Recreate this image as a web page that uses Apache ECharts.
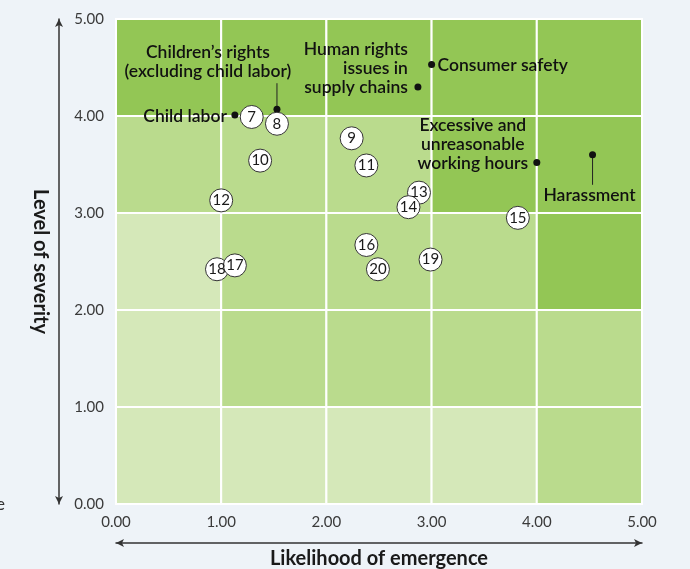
<!DOCTYPE html>
<html>
<head>
<meta charset="utf-8">
<title>Human rights risk map</title>
<script src="https://cdn.jsdelivr.net/npm/echarts@6/dist/echarts.min.js"></script>
<style>
  html, body { margin: 0; padding: 0; background: #eef3f8; }
  #chart { width: 690px; height: 569px; }
</style>
</head>
<body>
<div id="chart"></div>
<script>
// axis ticks
const tickValues = [0, 1, 2, 3, 4, 5];

// background zones, rows from bottom (severity 0-1) to top, 1 = low, 2 = mid, 3 = high
const zoneRows = [
  [1, 1, 1, 1, 2],
  [1, 2, 2, 2, 2],
  [1, 2, 2, 2, 3],
  [2, 2, 2, 3, 3],
  [3, 3, 3, 3, 3]
];

// numbered issues
const numIds = [7, 8, 9, 10, 11, 12, 13, 14, 15, 16, 18, 17, 19, 20];
const numLikelihood = [1.29, 1.53, 2.24, 1.37, 2.38, 1.00, 2.88, 2.78, 3.82, 2.38, 0.96, 1.13, 2.99, 2.49];
const numSeverity = [3.99, 3.92, 3.77, 3.54, 3.49, 3.13, 3.21, 3.06, 2.95, 2.67, 2.42, 2.46, 2.52, 2.42];

// named issues
const issueNames = [
  'Child labor',
  'Children\u2019s rights\n(excluding child labor)',
  'Human rights\nissues in\nsupply chains',
  'Consumer safety',
  'Excessive and\nunreasonable\nworking hours',
  'Harassment'
];
const issueLikelihood = [1.13, 1.53, 2.87, 3.00, 4.00, 4.53];
const issueSeverity = [4.01, 4.07, 4.30, 4.53, 3.52, 3.60];

// label placement (pixels relative to the dot)
const issueLabelStyle = [
  { dx: -8, dy: 1, align: 'right', va: 'middle' },
  { dx: -69, dy: -28, align: 'center', va: 'bottom', line: -26 },
  { dx: -10, dy: 10, align: 'right', va: 'bottom' },
  { dx: 6, dy: 1, align: 'left', va: 'middle' },
  { dx: -64, dy: 10, align: 'center', va: 'bottom' },
  { dx: -3, dy: 31, align: 'center', va: 'top', line: 30 }
];

const zoneColors = { 1: '#d5e8b9', 2: '#badb8d', 3: '#93c655' };
const FONT = 'Lato, "Noto Sans", sans-serif';

const zoneData = [];
zoneRows.forEach((row, yi) => {
  row.forEach((lvl, xi) => zoneData.push([xi, yi, lvl]));
});

const numData = numIds.map((id, i) => [numLikelihood[i], numSeverity[i], id]);
const issueData = issueNames.map((n, i) => [issueLikelihood[i], issueSeverity[i], i]);

const fmt = v => v.toFixed(2);

const chart = echarts.init(document.getElementById('chart'));

const arrowLine = {
  show: true, onZero: false,
  symbol: ['arrow', 'arrow'], symbolSize: [6, 8],
  lineStyle: { color: '#333', width: 1.5 }
};

const option = {
  backgroundColor: '#eef3f8',
  animation: false,
  textStyle: { fontFamily: FONT },
  grid: { left: 116, right: 48, top: 19, bottom: 65, outerBoundsMode: 'none', containLabel: false },
  xAxis: [
    {
      type: 'value', min: tickValues[0], max: tickValues[tickValues.length - 1], interval: 1,
      axisLine: { show: false }, axisTick: { show: false }, splitLine: { show: false },
      axisLabel: { formatter: fmt, margin: 11, color: '#3a3a3a', fontSize: 15, fontFamily: FONT }
    },
    {
      type: 'value', min: 0, max: 5, position: 'bottom', offset: 39,
      axisLine: arrowLine,
      axisTick: { show: false }, axisLabel: { show: false }, splitLine: { show: false },
      name: 'Likelihood of emergence', nameLocation: 'middle', nameGap: 6,
      nameTextStyle: { fontSize: 20, fontWeight: 'bold', color: '#1a1a1a', fontFamily: FONT, verticalAlign: 'top' }
    }
  ],
  yAxis: [
    {
      type: 'value', min: tickValues[0], max: tickValues[tickValues.length - 1], interval: 1,
      axisLine: { show: false }, axisTick: { show: false }, splitLine: { show: false },
      axisLabel: { formatter: fmt, margin: 12, color: '#3a3a3a', fontSize: 15, fontFamily: FONT }
    },
    {
      type: 'value', min: 0, max: 5, position: 'left', offset: 57,
      axisLine: arrowLine,
      axisTick: { show: false }, axisLabel: { show: false }, splitLine: { show: false },
      name: 'Level of severity', nameLocation: 'middle', nameGap: 9, nameRotate: -90,
      nameTextStyle: { fontSize: 20, fontWeight: 'bold', color: '#1a1a1a', fontFamily: FONT }
    }
  ],
  graphic: [
    { type: 'text', left: -4, top: 496, style: { text: 'e', fontSize: 17, fill: '#333', fontFamily: FONT } }
  ],
  series: [
    {
      type: 'custom',
      silent: true,
      z: 1,
      data: zoneData,
      renderItem: (params, api) => {
        const x = api.value(0), y = api.value(1);
        const p = api.coord([x, y + 1]);
        const s = api.size([1, 1]);
        return {
          type: 'rect',
          shape: { x: p[0], y: p[1], width: s[0], height: s[1] },
          style: { fill: zoneColors[api.value(2)], stroke: '#ffffff', lineWidth: 2 }
        };
      }
    },
    {
      type: 'custom',
      silent: true,
      z: 3,
      data: issueData,
      renderItem: (params, api) => {
        const p = api.coord([api.value(0), api.value(1)]);
        const idx = api.value(2);
        const st = issueLabelStyle[idx];
        const children = [];
        if (st.line) {
          children.push({
            type: 'line',
            shape: { x1: p[0], y1: p[1], x2: p[0], y2: p[1] + st.line },
            style: { stroke: '#222', lineWidth: 1 }
          });
        }
        children.push({
          type: 'circle',
          shape: { cx: p[0], cy: p[1], r: 3.5 },
          style: { fill: '#111' }
        });
        children.push({
          type: 'text',
          x: p[0] + st.dx,
          y: p[1] + st.dy,
          style: {
            text: issueNames[idx],
            fill: '#111',
            fontSize: 17.5,
            fontWeight: 600,
            fontFamily: FONT,
            lineHeight: 19,
            align: st.align,
            verticalAlign: st.va
          }
        });
        return { type: 'group', children: children };
      }
    },
    {
      type: 'scatter',
      z: 4,
      data: numData,
      symbol: 'circle',
      symbolSize: 23,
      itemStyle: { color: '#ffffff', borderColor: '#333', borderWidth: 1, opacity: 1 },
      label: {
        show: true, position: 'inside',
        formatter: p => String(p.value[2]),
        color: '#1a1a1a', fontSize: 15, fontFamily: FONT
      },
      emphasis: { disabled: true }
    }
  ]
};

chart.setOption(option);

window.addEventListener('resize', function () {
  chart.resize();
});
</script>
</body>
</html>
